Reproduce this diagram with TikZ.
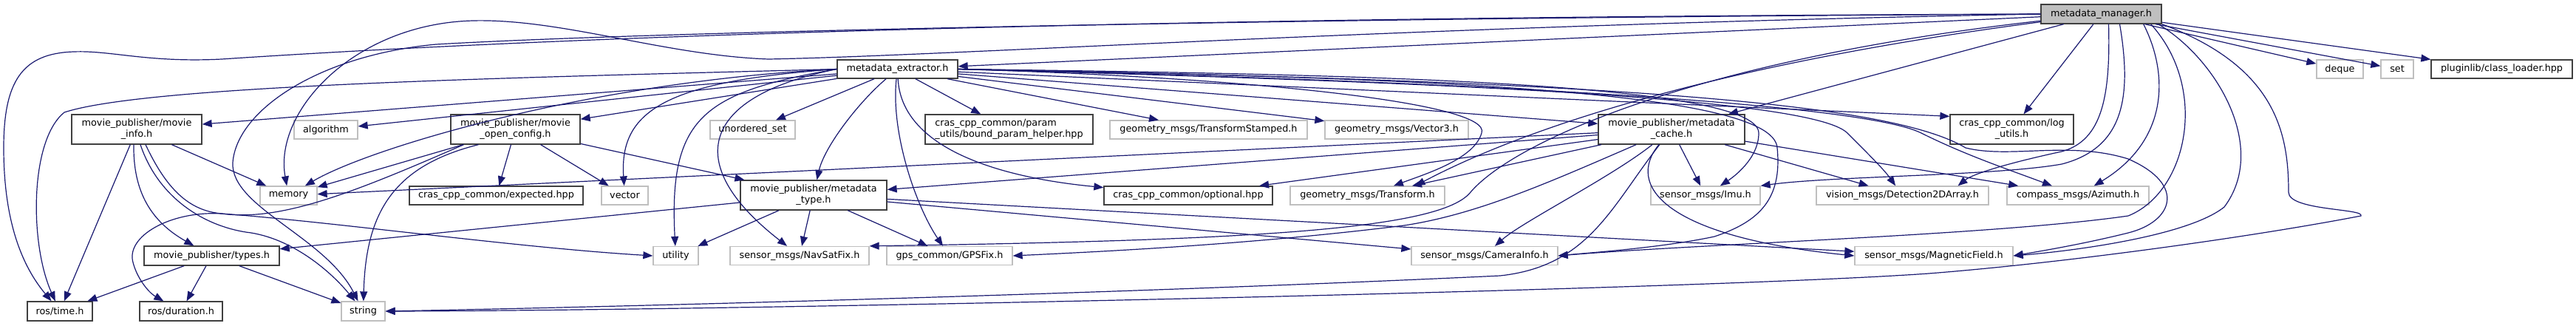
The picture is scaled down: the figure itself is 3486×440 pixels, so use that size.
\documentclass[tikz,border=0pt]{standalone}
\usepackage{fontspec}
\setmainfont{DejaVu Sans}
\usetikzlibrary{arrows.meta}
\definecolor{edgeblue}{RGB}{25,25,112}
\definecolor{boxgray}{RGB}{191,191,191}
\definecolor{boxdark}{RGB}{64,64,64}
\tikzset{
  filebox/.style={draw=boxdark,line width=1.3pt,fill=white,inner sep=0pt,align=center,font=\fontsize{12.8}{15}\selectfont},
  rootbox/.style={filebox,fill=boxgray},
  sysbox/.style={filebox,draw=boxgray},
  dep/.style={draw=edgeblue,line width=1.2pt,-{Triangle[length=13pt,width=10pt]}}
}
\begin{document}
\begin{tikzpicture}[x=1pt,y=-1pt]
\useasboundingbox (0,0) rectangle (3486,440);

\node[rootbox,minimum width=163pt,minimum height=26pt] (mgr) at (2843.5,19) {metadata\_manager.h};

\node[filebox,minimum width=163pt,minimum height=25pt] (ext) at (1214.5,93.5) {metadata\_extractor.h};
\node[sysbox,minimum width=63pt,minimum height=25pt] (deq) at (3166.5,93.5) {deque};
\node[sysbox,minimum width=44pt,minimum height=25pt] (set) at (3244,93.5) {set};
\node[filebox,minimum width=191pt,minimum height=25pt] (cls) at (3385.5,93.5) {pluginlib/class\_loader.hpp};

\node[filebox,minimum width=176pt,minimum height=40pt] (minfo) at (185,175) {movie\_publisher/movie\\\_info.h};
\node[sysbox,minimum width=86pt,minimum height=25pt] (alg) at (441,175.5) {algorithm};
\node[filebox,minimum width=175pt,minimum height=40pt] (ocfg) at (697.5,175) {movie\_publisher/movie\\\_open\_config.h};
\node[sysbox,minimum width=115pt,minimum height=25pt] (uset) at (1018.5,175.5) {unordered\_set};
\node[filebox,minimum width=227pt,minimum height=40pt,align=left] (bph) at (1365.5,175) {cras\_cpp\_common/param\\\_utils/bound\_param\_helper.hpp};
\node[sysbox,minimum width=267pt,minimum height=25pt] (tfs) at (1635.5,175.5) {geometry\_msgs/TransformStamped.h};
\node[sysbox,minimum width=194pt,minimum height=25pt] (v3) at (1890,175.5) {geometry\_msgs/Vector3.h};
\node[filebox,minimum width=198pt,minimum height=40pt] (cache) at (2262,175) {movie\_publisher/metadata\\\_cache.h};
\node[filebox,minimum width=167pt,minimum height=40pt] (logu) at (2722.5,175) {cras\_cpp\_common/log\\\_utils.h};

\node[sysbox,minimum width=77pt,minimum height=25pt] (mem) at (390.5,264.5) {memory};
\node[filebox,minimum width=235pt,minimum height=25pt] (expd) at (671.5,264.5) {cras\_cpp\_common/expected.hpp};
\node[sysbox,minimum width=63pt,minimum height=25pt] (vec) at (845.5,264.5) {vector};
\node[filebox,minimum width=198pt,minimum height=40pt] (mtype) at (1101,264) {movie\_publisher/metadata\\\_type.h};
\node[filebox,minimum width=228pt,minimum height=25pt] (opt) at (1608,264.5) {cras\_cpp\_common/optional.hpp};
\node[sysbox,minimum width=209pt,minimum height=25pt] (tf) at (1850.5,264.5) {geometry\_msgs/Transform.h};
\node[sysbox,minimum width=148pt,minimum height=25pt] (imu) at (2308,264.5) {sensor\_msgs/Imu.h};
\node[sysbox,minimum width=233pt,minimum height=25pt] (det) at (2574.5,264.5) {vision\_msgs/Detection2DArray.h};
\node[sysbox,minimum width=192pt,minimum height=25pt] (azi) at (2812,264.5) {compass\_msgs/Azimuth.h};

\node[filebox,minimum width=183pt,minimum height=26pt] (types) at (286.5,346) {movie\_publisher/types.h};
\node[sysbox,minimum width=61pt,minimum height=25pt] (util) at (914.5,346) {utility};
\node[sysbox,minimum width=188pt,minimum height=25pt] (nav) at (1082,346) {sensor\_msgs/NavSatFix.h};
\node[sysbox,minimum width=170pt,minimum height=25pt] (gps) at (1285,346) {gps\_common/GPSFix.h};
\node[sysbox,minimum width=198pt,minimum height=25pt] (cam) at (2009,346) {sensor\_msgs/CameraInfo.h};
\node[sysbox,minimum width=214pt,minimum height=25pt] (mag) at (2617,346) {sensor\_msgs/MagneticField.h};

\node[filebox,minimum width=88pt,minimum height=26pt] (time) at (81,421) {ros/time.h};
\node[filebox,minimum width=112pt,minimum height=26pt] (dur) at (245,421) {ros/duration.h};
\node[sysbox,minimum width=59pt,minimum height=26pt] (str) at (491.5,421) {string};

\draw[dep] (mgr) -- (ext);
\draw[dep] (mgr) -- (deq);
\draw[dep] (mgr) -- (set);
\draw[dep] (mgr) -- (cls);
\draw[dep] (mgr) -- (cache);
\draw[dep] (mgr) -- (logu);
\draw[dep] (mgr.west) .. controls (1800,22) and (900,40) .. (300,80) .. controls (200,85) and (150,68) .. (100,70) .. controls (30,72) and (5,110) .. (5,200) .. controls (5,300) and (30,360) .. (time);
\draw[dep] (mgr.west) .. controls (1800,24) and (900,42) .. (590,60) .. controls (430,75) and (320,150) .. (315,220) .. controls (312,280) and (440,320) .. (str);
\draw[dep] (mgr.west) .. controls (1900,35) and (1300,75) .. (1040,80) .. controls (900,75) and (760,25) .. (640,28) .. controls (480,32) and (370,150) .. (mem);
\draw[dep] ([xshift=-25pt]mgr.south east) .. controls (2935,100) and (2935,190) .. (azi);
\draw[dep] ([xshift=10pt]mgr.south) .. controls (2856,130) and (2845,190) .. (2790,205) .. controls (2720,220) and (2670,235) .. ([xshift=75pt]det.north);
\draw[dep] ([xshift=25pt]mgr.south) .. controls (2885,130) and (2875,200) .. (2790,222) .. controls (2700,238) and (2480,238) .. (imu.north east);
\draw[dep] ([xshift=-5pt]mgr.south east) .. controls (3000,80) and (3070,200) .. (3010,280) .. controls (2960,320) and (2800,340) .. (mag.east);
\draw[dep] ([xshift=-15pt]mgr.south east) .. controls (2990,120) and (2960,260) .. (2880,292) .. controls (2700,318) and (2300,330) .. (cam.east);
\draw[dep] (mgr.south east) .. controls (3080,90) and (3097,180) .. (3097,260) .. controls (3097,285) and (3200,282) .. (3195,292) .. controls (3050,320) and (2800,355) .. (2610,370) .. controls (2300,392) and (1000,420) .. (str.east);
\draw[dep] (mgr) .. controls (2300,90) and (2050,180) .. ([xshift=65pt]tf.north);
\draw[dep] (mgr) .. controls (2300,80) and (2050,190) .. (1990,260) .. controls (1950,310) and (1700,325) .. (nav.north east);

\draw[dep] (cache) -- (mtype);
\draw[dep] (cache) -- (mem);
\draw[dep] (cache) -- (opt);
\draw[dep] (cache) -- (tf);
\draw[dep] (cache) -- (imu);
\draw[dep] (cache) -- (det);
\draw[dep] (cache) -- (azi);
\draw[dep] (cache) .. controls (2200,250) and (2250,320) .. (mag.west);
\draw[dep] (cache) .. controls (2180,280) and (2150,360) .. (2030,373) .. controls (1500,398) and (800,416) .. (str.east);
\draw[dep] (cache) .. controls (2180,240) and (2060,300) .. ([xshift=14pt]cam.north);
\draw[dep] (cache) .. controls (2100,245) and (2000,290) .. (1900,305) .. controls (1700,330) and (1500,340) .. (gps.east);

\draw[dep] (ext) -- (minfo);
\draw[dep] (ext) -- (alg);
\draw[dep] (ext) -- (ocfg);
\draw[dep] (ext) -- (uset);
\draw[dep] (ext) -- (bph);
\draw[dep] (ext) -- (tfs);
\draw[dep] (ext) -- (v3);
\draw[dep] (ext) -- (cache);
\draw[dep] (ext) -- ([yshift=-3pt]logu.north west);
\draw[dep] (ext.west) .. controls (700,105) and (200,115) .. (87,152) .. controls (40,190) and (40,330) .. (time);
\draw[dep] (ext) .. controls (1160,140) and (1115,200) .. (mtype);
\draw[dep] (ext.west) .. controls (950,125) and (905,160) .. (util);
\draw[dep] (ext.west) .. controls (950,130) and (920,220) .. (nav);
\draw[dep] (ext) .. controls (1205,180) and (1240,280) .. (gps);
\draw[dep] (ext) .. controls (1220,200) and (1350,240) .. (opt);
\draw[dep] (ext.west) .. controls (900,110) and (838,150) .. (vec);
\draw[dep] (ext.west) .. controls (800,110) and (500,200) .. (mem);
\draw[dep] (ext.east) .. controls (1700,105) and (2020,140) .. (2005,180) .. controls (1995,215) and (1930,235) .. (tf);
\draw[dep] (ext.east) .. controls (1800,100) and (2380,110) .. (2380,180) .. controls (2380,215) and (2345,240) .. (imu);
\draw[dep] (ext.east) .. controls (1900,110) and (2450,130) .. (2500,180) .. controls (2530,210) and (2550,230) .. (det);
\draw[dep] (ext.east) .. controls (2000,110) and (2520,140) .. (2600,180) .. controls (2660,210) and (2720,230) .. (azi);
\draw[dep] (ext.east) .. controls (2200,110) and (2560,140) .. (2660,200) .. controls (2720,215) and (2800,190) .. (2880,215) .. controls (2960,250) and (2940,300) .. (2880,315) .. controls (2820,330) and (2760,340) .. (mag.east);
\draw[dep] (ext.east) .. controls (1900,105) and (2400,120) .. (2405,200) .. controls (2412,270) and (2380,300) .. (2320,320) .. controls (2250,335) and (2150,342) .. (cam.east);

\draw[dep] (ocfg) -- (mem);
\draw[dep] (ocfg) -- (expd);
\draw[dep] (ocfg) -- (vec);
\draw[dep] (ocfg) -- (mtype);
\draw[dep] ([xshift=-50pt]ocfg.south) .. controls (530,225) and (495,290) .. (str);
\draw[dep] ([xshift=-70pt]ocfg.south) .. controls (480,260) and (380,300) .. (300,289) .. controls (230,285) and (170,320) .. (180,355) .. controls (185,375) and (200,395) .. (dur);

\draw[dep] (mtype) -- (util);
\draw[dep] (mtype) -- (nav);
\draw[dep] (mtype) -- (gps);
\draw[dep] (mtype) -- (types);
\draw[dep] (mtype) -- (cam);
\draw[dep] (mtype) -- (mag);

\draw[dep] (minfo) -- (time);
\draw[dep] (minfo) -- (mem);
\draw[dep] ([xshift=-4pt]minfo.south) .. controls (180,260) and (205,300) .. (types);
\draw[dep] ([xshift=5pt]minfo.south) .. controls (215,270) and (280,308) .. (340,315) .. controls (400,325) and (450,370) .. (str);
\draw[dep] ([xshift=12pt]minfo.south) .. controls (225,255) and (255,285) .. (300,289) .. controls (450,300) and (700,335) .. (util.west);

\draw[dep] (types) -- (time);
\draw[dep] (types) -- (dur);
\draw[dep] (types) -- (str);
\end{tikzpicture}
\end{document}
